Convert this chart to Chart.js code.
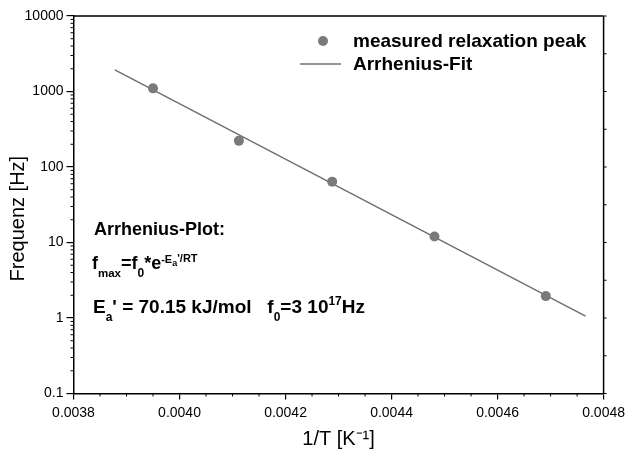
<!DOCTYPE html>
<html>
<head>
<meta charset="utf-8">
<script src="https://cdn.jsdelivr.net/npm/chart.js@4.4.1/dist/chart.umd.min.js"></script>
<style>
html,body{margin:0;padding:0;background:#fff;}
#wrap{width:630px;height:451px;position:relative;}
</style>
</head>
<body>
<div id="wrap"><canvas id="c" width="630" height="451"></canvas></div>
<script>
// ---- data ----
const peakInvT = [0.00395, 0.004112, 0.004288, 0.004481, 0.004691];
const peakFreq = [1100, 222, 64, 12.0, 1.95];
const fitInvT = [0.003878, 0.004766];
const fitFreq = [1930, 1.06];
const xTickValues = [0.0038, 0.0040, 0.0042, 0.0044, 0.0046, 0.0048];
const xTickLabels = ['0.0038', '0.0040', '0.0042', '0.0044', '0.0046', '0.0048'];
const yTickValues = [0.1, 1, 10, 100, 1000, 10000];
const yTickLabels = ['0.1', '1', '10', '100', '1000', '10000'];
const seriesLabels = ['measured relaxation peak', 'Arrhenius-Fit'];

const FONT = '"Liberation Sans", Arial, Helvetica, sans-serif';
const POINT_COLOR = '#7a7a7a';
const LINE_COLOR = '#707070';

function drawRuns(ctx, x, baseline, runs) {
  for (const r of runs) {
    ctx.font = 'bold ' + r.s + 'px ' + FONT;
    ctx.fillText(r.t, x, baseline + (r.dy || 0));
    x += ctx.measureText(r.t).width;
  }
  return x;
}

const extras = {
  id: 'extras',
  afterDraw(chart) {
    const ctx = chart.ctx;
    const a = chart.chartArea;
    const xs = chart.scales.x, ys = chart.scales.y;
    ctx.save();
    ctx.strokeStyle = '#000';
    ctx.lineWidth = 1.5;
    // top and right frame
    ctx.beginPath();
    ctx.moveTo(a.left, a.top); ctx.lineTo(a.right, a.top);
    ctx.moveTo(a.right, a.top); ctx.lineTo(a.right, a.bottom);
    ctx.stroke();
    ctx.lineWidth = 1;
    ctx.beginPath();
    // x minor ticks
    for (let i = 1; i < 20; i++) {
      if (i % 4 === 0) continue;
      const px = xs.getPixelForValue(0.0038 + i * 0.00005);
      ctx.moveTo(px, a.bottom); ctx.lineTo(px, a.bottom + 3);
    }
    // y minor ticks
    for (let d = 0; d < yTickValues.length - 1; d++) {
      for (let m = 2; m <= 9; m++) {
        const py = ys.getPixelForValue(yTickValues[d] * m);
        ctx.moveTo(a.left, py); ctx.lineTo(a.left - 3, py);
      }
    }
    // right axis ticks (half decades)
    for (let k = -2; k <= 8; k++) {
      const py = ys.getPixelForValue(Math.pow(10, k / 2));
      ctx.moveTo(a.right, py); ctx.lineTo(a.right + 3, py);
    }
    ctx.stroke();

    // legend
    ctx.fillStyle = POINT_COLOR;
    ctx.beginPath();
    ctx.arc(323, 41, 5, 0, Math.PI * 2);
    ctx.fill();
    ctx.strokeStyle = LINE_COLOR;
    ctx.lineWidth = 1.5;
    ctx.beginPath();
    ctx.moveTo(300, 64); ctx.lineTo(341, 64);
    ctx.stroke();
    ctx.fillStyle = '#000';
    ctx.textBaseline = 'alphabetic';
    ctx.textAlign = 'left';
    ctx.font = 'bold 19px ' + FONT;
    ctx.fillText(seriesLabels[0], 353, 47);
    ctx.fillText(seriesLabels[1], 353, 70);

    // annotation
    drawRuns(ctx, 94, 235, [{t: 'Arrhenius-Plot:', s: 18}]);
    drawRuns(ctx, 92, 269, [
      {t: 'f', s: 18}, {t: 'max', s: 11.5, dy: 8}, {t: '=f', s: 18}, {t: '0', s: 12, dy: 8},
      {t: '*e', s: 18}, {t: '-E', s: 11, dy: -6}, {t: 'a', s: 9, dy: -3}, {t: '\'/RT', s: 11, dy: -7}
    ]);
    drawRuns(ctx, 93, 313, [
      {t: 'E', s: 19}, {t: 'a', s: 12, dy: 8}, {t: '\' = 70.15 kJ/mol   f', s: 19},
      {t: '0', s: 12, dy: 8}, {t: '=3 10', s: 19}, {t: '17', s: 12, dy: -8}, {t: 'Hz', s: 19}
    ]);
    ctx.restore();
  }
};

new Chart(document.getElementById('c'), {
  type: 'scatter',
  data: {
    datasets: [
      {
        label: seriesLabels[0],
        data: peakInvT.map((x, i) => ({x: x, y: peakFreq[i]})),
        pointRadius: 5,
        pointBackgroundColor: POINT_COLOR,
        pointBorderWidth: 0,
        showLine: false,
        order: 0
      },
      {
        label: seriesLabels[1],
        data: fitInvT.map((x, i) => ({x: x, y: fitFreq[i]})),
        showLine: true,
        borderColor: LINE_COLOR,
        borderWidth: 1.5,
        pointRadius: 0,
        order: 1
      }
    ]
  },
  options: {
    responsive: false,
    animation: false,
    devicePixelRatio: 1,
    layout: {padding: {top: 16, right: 24, left: 0, bottom: 0}},
    plugins: {legend: {display: false}, tooltip: {enabled: false}},
    scales: {
      x: {
        type: 'linear',
        min: 0.0038,
        max: 0.0048,
        afterBuildTicks: s => { s.ticks = xTickValues.map(v => ({value: v})); },
        afterFit: s => { s.height = 57.5; },
        ticks: {
          callback: (v, i) => xTickLabels[i],
          font: {family: FONT, size: 14},
          color: '#000',
          padding: 5,
          maxRotation: 0,
          autoSkip: false
        },
        grid: {drawOnChartArea: false, drawTicks: true, tickLength: 6, color: '#000', lineWidth: 1.2},
        border: {display: true, color: '#000', width: 1.5},
        title: {display: true, text: '1/T [K⁻¹]', color: '#000', font: {family: FONT, size: 20}, padding: {top: 0, bottom: 0}}
      },
      y: {
        type: 'logarithmic',
        min: 0.1,
        max: 10000,
        afterBuildTicks: s => { s.ticks = yTickValues.map(v => ({value: v})); },
        afterFit: s => { s.width = 73.5; },
        ticks: {
          callback: (v, i) => yTickLabels[i],
          font: {family: FONT, size: 14},
          color: '#000',
          padding: 3,
          autoSkip: false
        },
        grid: {drawOnChartArea: false, drawTicks: true, tickLength: 7, color: '#000', lineWidth: 1.2},
        border: {display: true, color: '#000', width: 1.5},
        title: {display: true, text: 'Frequenz [Hz]\u00A0\u00A0\u00A0\u00A0\u00A0', color: '#000', font: {family: FONT, size: 20}, padding: {top: 6, bottom: 0}}
      }
    }
  },
  plugins: [extras]
});
</script>
</body>
</html>
